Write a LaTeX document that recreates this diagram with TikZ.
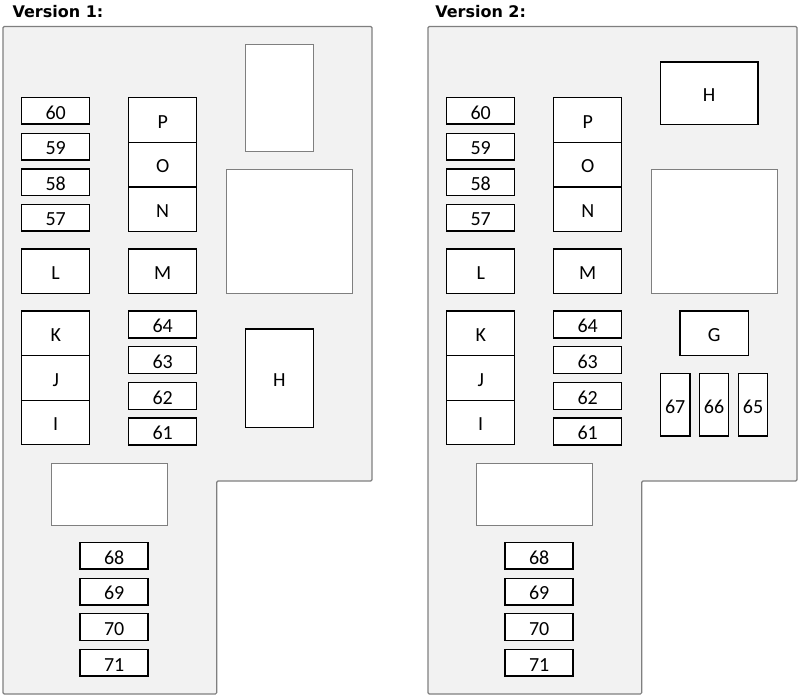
\documentclass[tikz,border=0pt]{standalone}
\usepackage{fontspec}
\setmainfont{Carlito}
\newfontfamily\titlefont{DejaVu Sans}
\newdimen\pxu
\pxu=0.75pt
\definecolor{boxfill}{HTML}{F2F2F2}
\definecolor{edgegray}{HTML}{7F7F7F}
\tikzset{
  fusebox/.style={draw=black, fill=white, line width=1.1pt, inner sep=0pt,
    text height=12.4pt, text depth=0pt,
    font=\fontsize{15}{15}\selectfont},
  blankbox/.style={draw=edgegray, fill=white, line width=0.8pt, inner sep=0pt},
  outline/.style={draw=edgegray, fill=boxfill, line width=0.9pt, rounded corners=1pt},
  vtitle/.style={anchor=west, inner sep=0pt, font=\titlefont\bfseries\fontsize{12}{12}\selectfont},
}
\newcommand\pbox[6]{% style, name, x, y, w, h, text
  \node[#1, minimum width=#5\pxu, minimum height=#6\pxu] (#2) at (#3,#4)}
\newcommand\commonparts[1]{%
  \draw[outline] (3,26.5) -- (372,26.5) -- (372,481) -- (216.7,481) -- (216.7,694) -- (3,694) -- cycle;
  % left small fuses
  \pbox{fusebox}{f60#1}{55.7}{110.8}{68}{26.5} {60};
  \pbox{fusebox}{f59#1}{55.7}{146.6}{68}{26.5} {59};
  \pbox{fusebox}{f58#1}{55.7}{182.2}{68}{26.5} {58};
  \pbox{fusebox}{f57#1}{55.7}{217.7}{68}{26.5} {57};
  % P O N
  \pbox{fusebox}{rP#1}{162.7}{120}{68}{44.6} {P};
  \pbox{fusebox}{rO#1}{162.7}{164.6}{68}{44.6} {O};
  \pbox{fusebox}{rN#1}{162.7}{209.1}{68}{44.4} {N};
  % L M
  \pbox{fusebox}{rL#1}{55.7}{271.2}{68}{44.3} {L};
  \pbox{fusebox}{rM#1}{162.7}{271.2}{68}{44.3} {M};
  % K J I
  \pbox{fusebox}{rK#1}{55.7}{333.3}{68}{44.6} {K};
  \pbox{fusebox}{rJ#1}{55.7}{378}{68}{44.6} {J};
  \pbox{fusebox}{rI#1}{55.7}{422.5}{68}{44.4} {I};
  % 64..61
  \pbox{fusebox}{f64#1}{162.7}{324.7}{68}{27} {64};
  \pbox{fusebox}{f63#1}{162.7}{360.2}{68}{27} {63};
  \pbox{fusebox}{f62#1}{162.7}{395.8}{68}{27} {62};
  \pbox{fusebox}{f61#1}{162.7}{431.5}{68}{27} {61};
  % large blank
  \pbox{blankbox}{big#1}{289.5}{231.3}{125.6}{124} {};
  % lower blank
  \pbox{blankbox}{low#1}{109.5}{494.3}{116.4}{62} {};
  % 68..71
  \pbox{fusebox}{f68#1}{114.2}{555.8}{68}{26.5} {68};
  \pbox{fusebox}{f69#1}{114.2}{591.6}{68}{26.5} {69};
  \pbox{fusebox}{f70#1}{114.2}{627}{68}{26.5} {70};
  \pbox{fusebox}{f71#1}{114.2}{662.8}{68}{26.5} {71};
}
\begin{document}
\begin{tikzpicture}[x=0.75pt, y=-0.75pt]
  \useasboundingbox (0,0) rectangle (800,699);
  % Version 1
  \node[vtitle] (t1) at (12.3,11.5) {Version 1:};
  \commonparts{a}
  \pbox{blankbox}{topa}{279.5}{98}{67.6}{107.4} {};
  \pbox{fusebox}{rHa}{279.3}{378.2}{68}{98.3} {H};
  % Version 2
  \node[vtitle] (t2) at (435,11.5) {Version 2:};
  \begin{scope}[xshift=425*0.75pt]
    \commonparts{b}
    \pbox{fusebox}{rHb}{284.2}{93.2}{97.7}{62.3} {H};
    \pbox{fusebox}{rGb}{289.2}{333.3}{68.3}{44.7} {G};
    \pbox{fusebox}{f67b}{250.2}{404.8}{29.7}{62.3} {67};
    \pbox{fusebox}{f66b}{289}{404.8}{29.4}{62.3} {66};
    \pbox{fusebox}{f65b}{328}{404.8}{29.4}{62.3} {65};
  \end{scope}
\end{tikzpicture}
\end{document}
